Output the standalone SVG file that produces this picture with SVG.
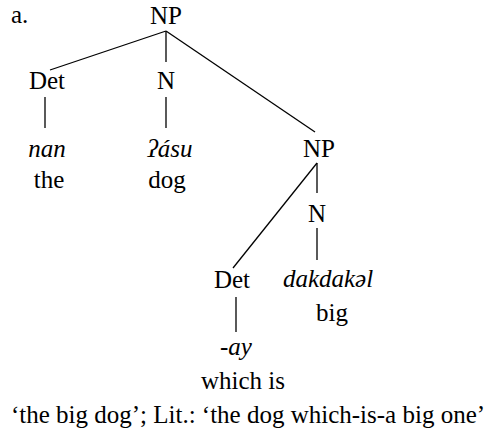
<svg xmlns="http://www.w3.org/2000/svg" width="491" height="435" viewBox="0 0 491 435">
<style>
text{font-family:"Liberation Serif","Times New Roman",serif;font-size:25px;fill:#000;text-anchor:middle}
.i{font-style:italic}
.l{text-anchor:start}
line{stroke:#000;stroke-width:1.3}
</style>
<rect width="491" height="435" fill="#fff"/>
<g id="connectors">
<line x1="166" y1="31" x2="50" y2="70"/>
<line x1="166" y1="31" x2="166" y2="62"/>
<line x1="166" y1="31" x2="315" y2="132"/>
<line x1="45" y1="97" x2="45" y2="128"/>
<line x1="166" y1="97" x2="166" y2="128"/>
<line x1="317" y1="163" x2="233" y2="268"/>
<line x1="317" y1="163" x2="317" y2="193"/>
<line x1="317" y1="228" x2="317" y2="260"/>
<line x1="236" y1="297" x2="236" y2="332"/>
</g>
<g id="label-a"><text class="l" x="11" y="23">a.</text></g>
<g id="np1"><text x="166" y="24">NP</text></g>
<g id="det1"><text x="47" y="89">Det</text><text class="i" x="47" y="157">nan</text><text x="49" y="188">the</text></g>
<g id="n1"><text x="166" y="89">N</text><text class="i" x="170" y="157">ʔásu</text><text x="167" y="188">dog</text></g>
<g id="np2"><text x="319" y="157">NP</text></g>
<g id="n2"><text x="317" y="222">N</text><text class="i" x="328" y="287">dakdakəl</text><text x="332" y="321">big</text></g>
<g id="det2"><text x="232" y="288">Det</text><text class="i" x="236" y="355">-ay</text><text x="243" y="389">which is</text></g>
<g id="caption"><text x="248" y="423">‘the big dog’; Lit.: ‘the dog which-is-a big one’</text></g>
</svg>
